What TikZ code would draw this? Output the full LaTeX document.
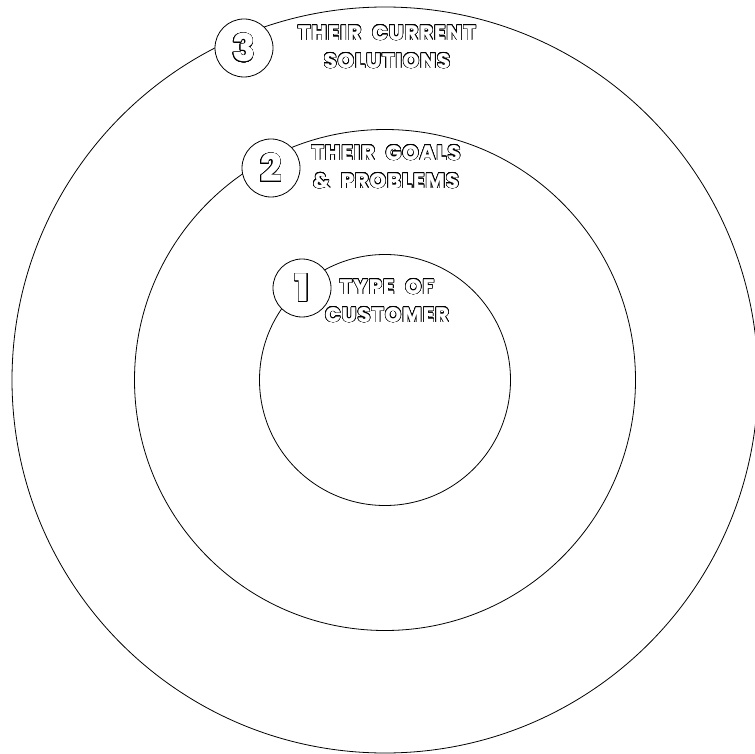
\documentclass[tikz,border=0pt]{standalone}
\usepackage{fontspec}
\setmainfont{Poppins}[BoldFont={Poppins ExtraBold}]
\newfontfamily\tagfont{Poppins}[BoldFont={Poppins ExtraBold},LetterSpace=4,WordSpace=2.2]
\usepackage{xcolor}
\usepackage{contour}
\contourlength{0.55pt}
\contournumber{24}
\usepackage{tikz}
\usetikzlibrary{positioning}
\newcommand{\hollow}[1]{\contour{black}{\textcolor{white}{#1}}}

\begin{document}
\begin{tikzpicture}[x=1pt,y=-1pt,
  ring/.style={draw,circle,line width=0.8pt,inner sep=0pt},
  badge/.style={draw,circle,fill=white,line width=0.8pt,minimum size=58pt,inner sep=0pt,font=\fontsize{38}{38}\selectfont\bfseries},
  tag/.style={align=center,font=\tagfont\bfseries\fontsize{21}{28}\selectfont}]
  \useasboundingbox (0,0) rectangle (755,754);
  \coordinate (mid) at (385,380);
  % rings, inside out
  \foreach \n/\sz in {1/251,2/501,3/746}
    \node[ring,minimum size=\sz pt] (ring\n) at (mid) {};
  % numbered badges sitting on the rings
  \node[badge] (num3) at (244,48) {\hollow{3}};
  \node[badge] (num2) at (271,168) {\hollow{2}};
  \node[badge] (num1) at (302,288) {\hollow{1}};
  % labels
  \node[tag] (lab3) at (387,47) {\hollow{THEIR CURRENT}\\\hollow{SOLUTIONS}};
  \node[tag] (lab2) at (386,167) {\hollow{THEIR GOALS}\\\hollow{\& PROBLEMS}};
  \node[tag] (lab1) at (387,301) {\hollow{TYPE OF}\\\hollow{CUSTOMER}};
\end{tikzpicture}
\end{document}
